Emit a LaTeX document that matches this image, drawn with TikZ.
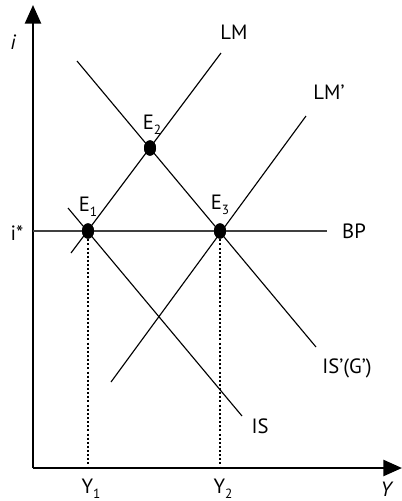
\documentclass[tikz,border=0pt]{standalone}
\usepackage{fontspec}
\setmainfont{PT Sans}
\usetikzlibrary{arrows.meta,shapes.geometric}
\newcommand{\sub}[1]{\raisebox{-0.25em}{\fontsize{10}{11}\selectfont #1}}
\tikzset{
  axis/.style={line width=1.9pt,-{Triangle[length=14pt,width=12pt]}},
  curve/.style={line width=0.85pt},
  bpline/.style={line width=0.85pt,draw=black!75},
  guide/.style={line width=0.8pt,dash pattern=on 1.5pt off 1.6pt},
  dot/.style={ellipse,fill=black,inner sep=0pt,minimum width=9pt,minimum height=11.5pt},
  lbl/.style={font=\fontsize{15.5}{17}\selectfont,inner sep=0pt}
}
\begin{document}
\begin{tikzpicture}[x=0.75pt,y=-0.75pt]
\useasboundingbox (0,0) rectangle (402,501);
% axes
\coordinate (O) at (33,468);
\coordinate (Itop) at (33,5);
\coordinate (Yend) at (402,468);
\draw[axis] (O) -- (Itop);
\draw[axis] (O) -- (Yend);
% dots
\node[dot] (E1) at (88,231) {};
\node[dot] (E2) at (150,148) {};
\node[dot] (E3) at (220,231) {};
% endpoints
\coordinate (BPa) at (33,231);
\coordinate (BPb) at (327,231);
\coordinate (LMa) at (71,253);
\coordinate (LMb) at (221,53);
\coordinate (LMpa) at (111,382);
\coordinate (LMpb) at (306,116);
\coordinate (ISa) at (68,208);
\coordinate (ISb) at (242,416);
\coordinate (ISpa) at (77,61);
\coordinate (ISpb) at (316,347);
\coordinate (Y1) at (88,468);
\coordinate (Y2) at (220,468);
% lines
\draw[bpline] (BPa) -- (BPb);
\draw[curve] (LMa) -- (LMb);
\draw[curve] (LMpa) -- (LMpb);
\draw[curve] (ISa) -- (ISb);
\draw[curve] (ISpa) -- (ISpb);
\draw[guide] (E1.center) -- (Y1);
\draw[guide] (E3.center) -- (Y2);
% redraw dots on top
\fill (E1) ellipse [x radius=6,y radius=7.7];
\fill (E2) ellipse [x radius=6,y radius=7.7];
\fill (E3) ellipse [x radius=6,y radius=7.7];
% labels
\node[lbl] (li) at (13,42) {\itshape i};
\node[lbl] (listar) at (17,233) {i*};
\node[lbl] (lBP) at (354,231) {BP};
\node[lbl] (lLM) at (234,32) {LM};
\node[lbl] (lLMp) at (329,92) {LM’};
\node[lbl,anchor=base] (lE1) at (88,211) {E\sub{1}};
\node[lbl,anchor=base] (lE2) at (152,129) {E\sub{2}};
\node[lbl,anchor=base] (lE3) at (220,209) {E\sub{3}};
\node[lbl] (lISp) at (347,368) {IS’(G’)};
\node[lbl] (lIS) at (260,426) {IS};
\node[lbl,anchor=base] (lY1) at (91,493) {Y\sub{1}};
\node[lbl,anchor=base] (lY2) at (223,493) {Y\sub{2}};
\node[lbl] (lY) at (386,489) {\itshape Y};
\end{tikzpicture}
\end{document}
